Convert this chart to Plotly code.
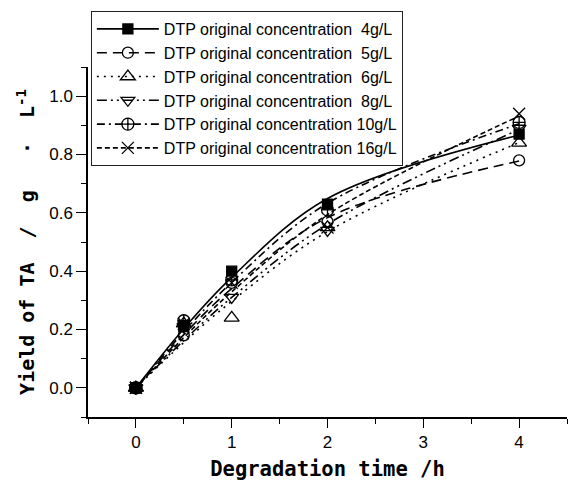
import numpy as np
import plotly.graph_objects as go

# ---- data ----
time_h = [0, 0.5, 1, 2, 4]
series_names = [
    "DTP original concentration  4g/L",
    "DTP original concentration  5g/L",
    "DTP original concentration  6g/L",
    "DTP original concentration  8g/L",
    "DTP original concentration 10g/L",
    "DTP original concentration 16g/L",
]
yield_4 = [0, 0.21, 0.40, 0.63, 0.87]
yield_5 = [0, 0.18, 0.36, 0.57, 0.78]
yield_6 = [0, 0.22, 0.24, 0.55, 0.84]
yield_8 = [0, 0.21, 0.31, 0.54, 0.89]
yield_10 = [0, 0.23, 0.37, 0.61, 0.91]
yield_16 = [0, 0.22, 0.36, 0.55, 0.94]
x_ticks = [0, 1, 2, 3, 4]
y_ticks = [0.0, 0.2, 0.4, 0.6, 0.8, 1.0]

series = [yield_4, yield_5, yield_6, yield_8, yield_10, yield_16]

# ---- styles ----
symbols = ["square", "circle-open", "triangle-up-open", "triangle-down-open",
           "circle-cross-open", "x-thin-open"]
msizes = [10, 11, 13, 12, 12, 12]
dashes = ["solid", "10px,6px", "2px,5px", "10px,4px,2px,4px,2px,4px",
          "8px,4px,2px,4px", "5px,3px"]

fig = go.Figure()
xt = np.array(time_h, dtype=float)
design = np.column_stack([xt, xt ** 2])  # quadratic fit through the origin
n = len(time_h)
for name, ys, sym, ms, dash in zip(series_names, series, symbols, msizes, dashes):
    coef, *_ = np.linalg.lstsq(design, np.array(ys, dtype=float), rcond=None)
    fit = design @ coef
    # only the first (origin) marker of the fitted curve is visible; it sits
    # under the measured origin point and lets the legend show the symbol
    mcol = ["black"] + ["rgba(0,0,0,0)"] * (n - 1)
    fig.add_trace(go.Scatter(
        x=time_h, y=fit, mode="lines+markers", name=name,
        line=dict(color="black", width=1.6, dash=dash, shape="spline", smoothing=1.0),
        marker=dict(symbol=sym, size=ms, color=mcol,
                    line=dict(color=mcol, width=1.3)),
        legendgroup=name, hoverinfo="skip",
    ))
    # measured points
    fig.add_trace(go.Scatter(
        x=time_h, y=ys, mode="markers", name=name, showlegend=False,
        legendgroup=name,
        marker=dict(symbol=sym, size=ms, color="black",
                    line=dict(color="black", width=1.3)),
    ))

mono = "DejaVu Sans Mono"
nb = "\u00a0"
ytitle = ("Yield of TA" + nb * 2 + "/" + nb * 2 + "g" + nb * 3 + "\u00b7" + nb * 2
          + "L<sup>-1</sup>")

fig.update_layout(
    width=568, height=484,
    margin=dict(l=88, r=1, t=67, b=67),
    paper_bgcolor="white", plot_bgcolor="white",
    font=dict(family="Liberation Sans, Arial", color="black", size=17),
    legend=dict(
        x=0.006, y=1.16, xanchor="left", yanchor="top",
        bgcolor="white", bordercolor="#222", borderwidth=1,
        font=dict(family="Liberation Sans, Arial", size=16, color="black"),
        itemwidth=62, tracegroupgap=0, entrywidth=270, entrywidthmode="pixels",
    ),
    xaxis=dict(
        range=[-0.5, 4.5], tickvals=x_ticks, ticktext=[str(v) for v in x_ticks],
        showgrid=False, zeroline=False, showline=True, linecolor="black",
        linewidth=1.5, ticks="outside", ticklen=9, tickwidth=1.3,
        tickcolor="black", tickfont=dict(size=17),
        minor=dict(dtick=0.5, tick0=0, ticks="outside", ticklen=5,
                   tickwidth=1.2, tickcolor="black"),
        title=dict(text="Degradation time /h",
                   font=dict(family=mono, size=20.5, color="black", weight="bold"),
                   standoff=10),
    ),
    yaxis=dict(
        range=[-0.1, 1.1], tickvals=y_ticks, ticktext=[f"{v:.1f}" for v in y_ticks],
        showgrid=False, zeroline=False, showline=True, linecolor="black",
        linewidth=1.5, ticks="outside", ticklen=10, tickwidth=1.3,
        tickcolor="black", tickfont=dict(size=17),
        minor=dict(dtick=0.1, tick0=0, ticks="outside", ticklen=5,
                   tickwidth=1.2, tickcolor="black"),
        title=dict(text=ytitle,
                   font=dict(family=mono, size=20, color="black", weight="bold"),
                   standoff=9),
    ),
)

fig.write_html(
    "out.html",
    config={"displayModeBar": False},
    post_script="document.body.style.margin='0';document.body.style.overflow='hidden';",
)
